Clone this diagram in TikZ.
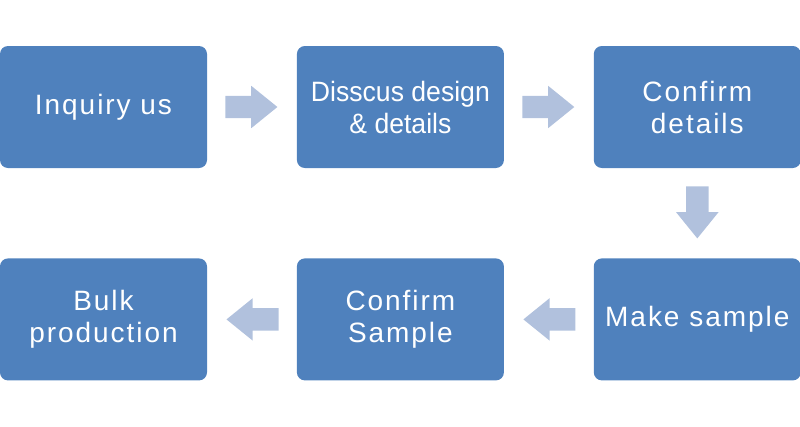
\documentclass[tikz,border=0pt]{standalone}
\usepackage{fontspec}
\newfontfamily\boxfont{Liberation Sans}[LetterSpace=7]
\newfontfamily\tightfont{Liberation Sans}[FakeStretch=0.95]
\usetikzlibrary{positioning,calc,shapes.arrows}
\definecolor{boxblue}{RGB}{79,129,189}
\definecolor{arrowblue}{RGB}{177,193,221}
\begin{document}
\begin{tikzpicture}[x=1pt, y=1pt, node distance=89.5pt,
  stepbox/.style={rectangle, rounded corners=8pt, fill=boxblue, text=white, minimum width=207pt, minimum height=122pt, inner sep=0pt, align=center, font=\boxfont\fontsize{28}{32}\selectfont},
  flow/.style={single arrow, fill=arrowblue, minimum height=52pt, minimum width=42pt, single arrow head extend=10pt, single arrow tip angle=78, single arrow head indent=0pt, inner sep=11pt, anchor=tail}]
\useasboundingbox (0,0) rectangle (800,-426);
\node[stepbox] (inq) at (103.5,-107) {Inquiry us};
\node[stepbox, font=\tightfont\fontsize{28}{32}\selectfont] (dis) [right=of inq] {Disscus design\\\& details};
\node[stepbox] (cdet) [right=of dis] {Confirm\\details};
\node[stepbox] (make) [below=90pt of cdet] {Make sample};
\node[stepbox] (csam) [left=of make] {Confirm\\Sample};
\node[stepbox] (bulk) [left=of csam] {Bulk\\production};
\node[flow] (a1) at ($(inq.east)+(18,0)$) {};
\node[flow] (a2) at ($(dis.east)+(18,0)$) {};
\node[flow, shape border rotate=270] (a3) at ($(cdet.south)+(0,-18)$) {};
\node[flow, shape border rotate=180] (a4) at ($(make.west)+(-18,0)$) {};
\node[flow, shape border rotate=180] (a5) at ($(csam.west)+(-18,0)$) {};
\end{tikzpicture}
\end{document}
